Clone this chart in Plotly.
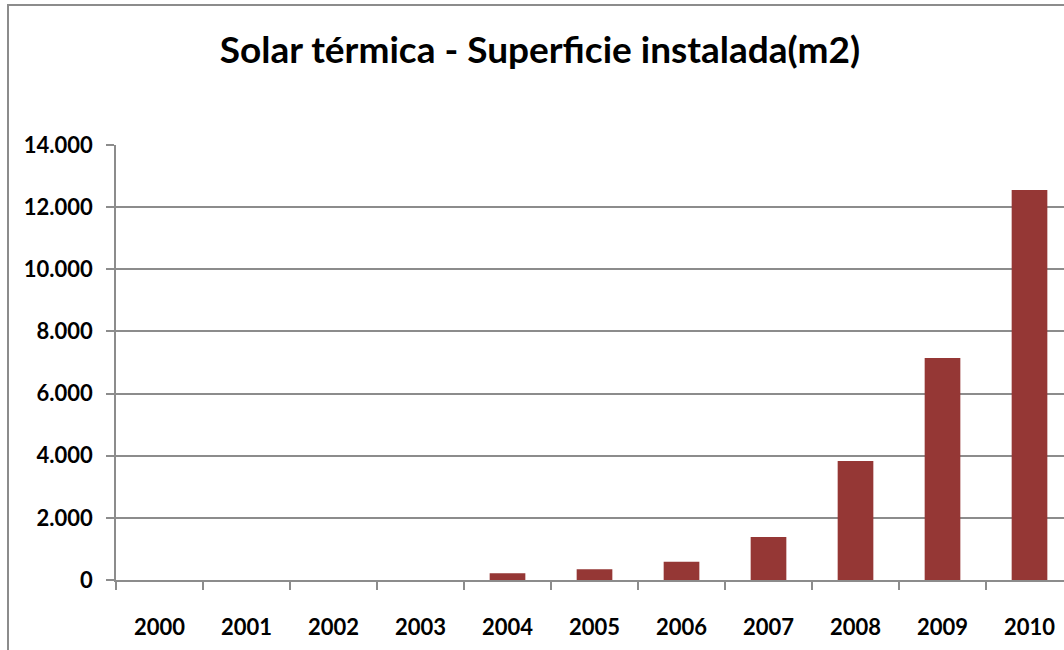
import plotly.graph_objects as go

years = ["2000", "2001", "2002", "2003", "2004", "2005", "2006", "2007", "2008", "2009", "2010"]
superficie = [0, 0, 0, 0, 215, 345, 590, 1385, 3830, 7145, 12550]
y_ticks = [0, 2000, 4000, 6000, 8000, 10000, 12000, 14000]
y_labels = ["0", "2.000", "4.000", "6.000", "8.000", "10.000", "12.000", "14.000"]

W, H = 1064, 650
L, T, B = 116, 145, 70
pw = W - L
ph = H - T - B

fig = go.Figure(go.Bar(x=years, y=superficie, marker=dict(color="#953735", line=dict(width=0)), width=0.41))

grid = "#8c8c8c"
fig.update_layout(
    width=W, height=H,
    margin=dict(l=L, r=0, t=T, b=B),
    paper_bgcolor="white", plot_bgcolor="white",
    showlegend=False,
    title=dict(text="<b>Solar térmica - Superficie instalada(m2)</b>", x=540 / W, xanchor="center",
               y=1 - 50 / H, yanchor="middle", yref="container",
               font=dict(family="Lato", size=37, color="black")),
    font=dict(family="Lato", color="black"),
)
fig.update_xaxes(
    type="category", categoryorder="array", categoryarray=years,
    range=[-0.5, -0.5 + pw / 87.0],
    tickvals=years, ticktext=["<b>%s</b>" % y for y in years],
    tickson="boundaries", ticks="outside", ticklen=8, tickcolor=grid, tickwidth=1.5,
    showline=True, linecolor=grid, linewidth=1.5, showgrid=False, zeroline=False,
    tickfont=dict(family="Lato", size=22, color="black"), ticklabelstandoff=27,
)
fig.update_yaxes(
    range=[0, 14000], tickmode="array", tickvals=y_ticks, ticktext=["<b>%s</b>" % t for t in y_labels],
    ticks="outside", ticklen=8, tickcolor=grid, tickwidth=1.5,
    showline=True, linecolor=grid, linewidth=1.5, showgrid=True, gridcolor=grid, gridwidth=1.5,
    zeroline=False, tickfont=dict(family="Lato", size=22, color="black"), ticklabelstandoff=9,
)


def px_to_paper_x(px):
    return (px - L) / pw


def px_to_paper_y(py):
    return (H - B - py) / ph


# outer chart-area border (top and left edges visible in the crop)
fig.add_shape(type="rect", xref="paper", yref="paper",
              x0=px_to_paper_x(7), x1=px_to_paper_x(1070), y0=px_to_paper_y(6), y1=px_to_paper_y(4),
              line=dict(width=0), fillcolor="#8c8c8c", layer="above")
fig.add_shape(type="rect", xref="paper", yref="paper",
              x0=px_to_paper_x(7), x1=px_to_paper_x(9), y0=px_to_paper_y(660), y1=px_to_paper_y(4),
              line=dict(width=0), fillcolor="#8c8c8c", layer="above")
fig.write_html("out.html", config={"displayModeBar": False},
               post_script="document.body.style.margin='0';document.body.style.overflow='hidden';")
